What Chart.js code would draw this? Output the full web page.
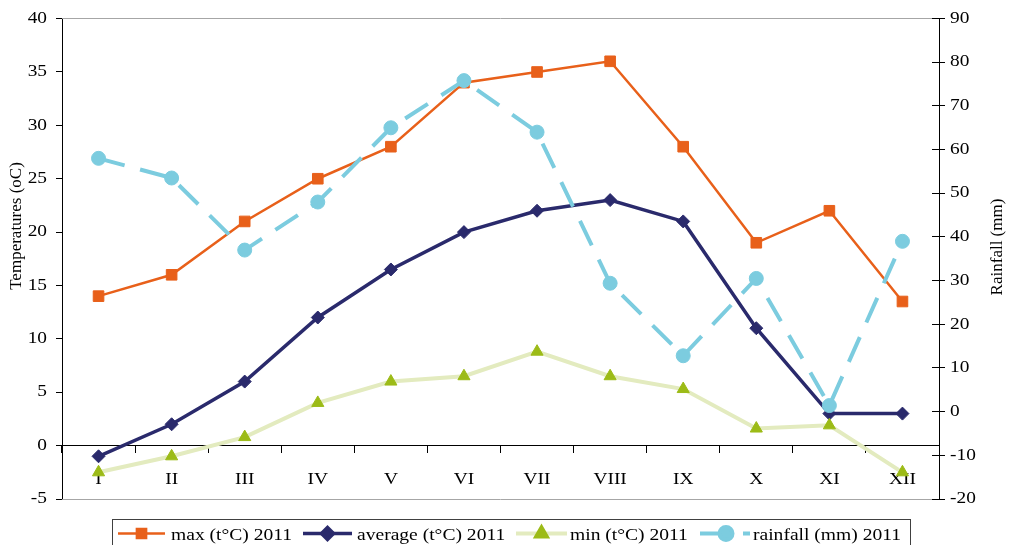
<!DOCTYPE html>
<html>
<head>
<meta charset="utf-8">
<script src="https://cdn.jsdelivr.net/npm/chart.js@4/dist/chart.umd.min.js"></script>
<style>
html,body{margin:0;padding:0;background:#fff;overflow:hidden}
#wrap{width:1014px;height:545px;position:relative}
canvas{display:block}
</style>
</head>
<body>
<div id="wrap"><canvas id="c" width="1014" height="545"></canvas></div>
<script>
// ---- data ----
const months = ['I','II','III','IV','V','VI','VII','VIII','IX','X','XI','XII'];
const maxTemp = [14, 16, 21, 25, 28, 34, 35, 36, 28, 19, 22, 13.5];
const avgTemp = [-1, 2, 6, 12, 16.5, 20, 22, 23, 21, 11, 3, 3];
const minTemp = [-2.5, -1, 0.8, 4, 6, 6.5, 8.8, 6.5, 5.3, 1.6, 1.9, -2.5];
const rainfall = [58, 53.5, 37, 48, 65, 75.8, 64, 29.4, 12.8, 30.5, 1.4, 39];
const tempRange = [-5, 40, 5];
const rainRange = [-20, 90, 10];
const seriesLabels = ['max (t°C) 2011', 'average (t°C) 2011', 'min (t°C) 2011', 'rainfall (mm) 2011'];
const titleLeft = 'Temperatures (oC)';
const titleRight = 'Rainfall (mm)';

// ---- styles ----
const ORANGE = '#E8601A', NAVY = '#2A2A6C', PALE = '#E3EBBF', LIME = '#9CBB17', SKY = '#7CCCDF';
const FAMILY = "'Liberation Serif', 'Times New Roman', serif";
const FONT = {family: FAMILY, size: 16};

const canvas = document.getElementById('c');
const ctx = canvas.getContext('2d');

// horizontally widened text (as in the reference)
let STRETCH = 1.21;
const _fill = ctx.fillText.bind(ctx);
const _meas = ctx.measureText.bind(ctx);
function isRotated() { const m = ctx.getTransform(); return Math.abs(m.b) > 1e-6 || Math.abs(m.c) > 1e-6; }
ctx.measureText = function (t) {
  const m = _meas(t);
  if (isRotated()) return m;
  return {
    width: m.width * STRETCH,
    actualBoundingBoxAscent: m.actualBoundingBoxAscent,
    actualBoundingBoxDescent: m.actualBoundingBoxDescent,
    actualBoundingBoxLeft: m.actualBoundingBoxLeft * STRETCH,
    actualBoundingBoxRight: m.actualBoundingBoxRight * STRETCH,
    fontBoundingBoxAscent: m.fontBoundingBoxAscent,
    fontBoundingBoxDescent: m.fontBoundingBoxDescent
  };
};
ctx.fillText = function (t, x, y) {
  if (isRotated()) return _fill(t, x, y);
  const w = _meas(t).width * STRETCH;
  const a = ctx.textAlign;
  let left = x;
  if (a === 'center') left = x - w / 2;
  else if (a === 'right' || a === 'end') left = x - w;
  ctx.save();
  ctx.textAlign = 'left';
  ctx.translate(left, y);
  ctx.scale(STRETCH, 1);
  _fill(t, 0, 0);
  ctx.restore();
};

function alignPx(v) { return Math.round(v - 0.5) + 0.5; }

const legendMarkerRadius = [6.5, 6, 6, 6.5];

const decor = {
  id: 'decor',
  beforeDatasetsDraw(chart) {
    const {ctx, chartArea: a} = chart;
    ctx.save();
    ctx.strokeStyle = '#A6A6A6';
    ctx.lineWidth = 1;
    ctx.beginPath();
    ctx.moveTo(a.left, alignPx(a.top)); ctx.lineTo(a.right, alignPx(a.top));
    ctx.moveTo(a.left, alignPx(a.bottom)); ctx.lineTo(a.right, alignPx(a.bottom));
    ctx.stroke();
    // inner half of right-axis ticks
    const s = chart.scales.y1;
    ctx.strokeStyle = '#000';
    ctx.beginPath();
    s.ticks.forEach(t => {
      const py = alignPx(s.getPixelForValue(t.value));
      ctx.moveTo(a.right - 7, py); ctx.lineTo(a.right, py);
    });
    ctx.stroke();
    ctx.restore();
  },
  afterDraw(chart) {
    const {ctx} = chart;
    ctx.save();
    // axis titles (rotated, reading bottom to top)
    ctx.fillStyle = '#000';
    ctx.font = '17px ' + FAMILY;
    ctx.textAlign = 'center';
    ctx.textBaseline = 'middle';
    ctx.save(); ctx.translate(17, 226); ctx.rotate(-Math.PI / 2); ctx.fillText(titleLeft, 0, 0); ctx.restore();
    ctx.save(); ctx.translate(998, 247); ctx.rotate(-Math.PI / 2); ctx.fillText(titleRight, 0, 0); ctx.restore();

    // legend
    ctx.strokeStyle = '#404040';
    ctx.lineWidth = 1;
    ctx.strokeRect(112.5, 519.5, 798, 40);
    const sx = [118, 303, 516, 700], ex = [165, 352, 567, 750], tx = [171, 357, 570, 753];
    const ly = 533.5;
    chart.data.datasets.forEach((ds, i) => {
      ctx.save();
      ctx.strokeStyle = ds.borderColor;
      ctx.lineWidth = ds.borderWidth;
      ctx.setLineDash(ds.borderDash || []);
      ctx.lineCap = 'butt';
      ctx.beginPath(); ctx.moveTo(sx[i], ly); ctx.lineTo(ex[i], ly); ctx.stroke();
      ctx.setLineDash([]);
      ctx.fillStyle = ds.pointBackgroundColor;
      ctx.strokeStyle = ds.pointBorderColor;
      const cx = i === 3 ? 726 : (sx[i] + ex[i]) / 2;
      Chart.helpers.drawPoint(ctx, {pointStyle: ds.pointStyle, radius: legendMarkerRadius[i], borderWidth: 1, rotation: 0}, cx, ly);
      ctx.restore();
      STRETCH = 1.15;
      ctx.fillStyle = '#000';
      ctx.font = '17px ' + FAMILY;
      ctx.textAlign = 'left';
      ctx.textBaseline = 'alphabetic';
      ctx.fillText(ds.label, tx[i], 540);
      STRETCH = 1.21;
    });
    ctx.restore();
  }
};

new Chart(ctx, {
  type: 'line',
  data: {
    labels: months,
    datasets: [
      {label: seriesLabels[0], data: maxTemp, yAxisID: 'y', order: 4,
       borderColor: ORANGE, borderWidth: 2.5, pointStyle: 'rect', pointRadius: 7.5,
       pointBackgroundColor: ORANGE, pointBorderColor: ORANGE, pointBorderWidth: 1, tension: 0},
      {label: seriesLabels[1], data: avgTemp, yAxisID: 'y', order: 3,
       borderColor: NAVY, borderWidth: 3.5, pointStyle: 'rectRot', pointRadius: 6.5,
       pointBackgroundColor: NAVY, pointBorderColor: NAVY, pointBorderWidth: 1, tension: 0},
      {label: seriesLabels[2], data: minTemp, yAxisID: 'y', order: 2,
       borderColor: PALE, borderWidth: 4, pointStyle: 'triangle', pointRadius: 7,
       pointBackgroundColor: LIME, pointBorderColor: LIME, pointBorderWidth: 1, tension: 0},
      {label: seriesLabels[3], data: rainfall, yAxisID: 'y1', order: 1,
       borderColor: SKY, borderWidth: 4, borderDash: [27, 16], borderCapStyle: 'butt',
       pointStyle: 'circle', pointRadius: 7,
       pointBackgroundColor: SKY, pointBorderColor: SKY, pointBorderWidth: 1, tension: 0}
    ]
  },
  options: {
    responsive: false,
    animation: false,
    devicePixelRatio: 1,
    layout: {padding: {top: 16, bottom: 46, left: 0, right: 0}},
    plugins: {legend: {display: false}, tooltip: {enabled: false}},
    events: [],
    scales: {
      x: {
        type: 'category', position: {y: 0}, offset: true,
        grid: {offset: true, drawOnChartArea: false, drawTicks: true, tickLength: 7, color: '#000', lineWidth: 1},
        border: {display: true, color: '#000', width: 1},
        ticks: {font: FONT, color: '#000', padding: 18, maxRotation: 0, autoSkip: false}
      },
      y: {
        position: 'left', min: tempRange[0], max: tempRange[1],
        ticks: {stepSize: tempRange[2], font: FONT, color: '#000', padding: 9},
        grid: {drawOnChartArea: false, drawTicks: true, tickLength: 6, color: '#000'},
        border: {display: true, color: '#000', width: 1},
        afterFit(s) { s.width = 62; }
      },
      y1: {
        position: 'right', min: rainRange[0], max: rainRange[1],
        ticks: {stepSize: rainRange[2], font: FONT, color: '#000', padding: 5},
        grid: {drawOnChartArea: false, drawTicks: true, tickLength: 6, color: '#000'},
        border: {display: true, color: '#000', width: 1},
        afterFit(s) { s.width = 75; }
      }
    }
  },
  plugins: [decor]
});
</script>
</body>
</html>
